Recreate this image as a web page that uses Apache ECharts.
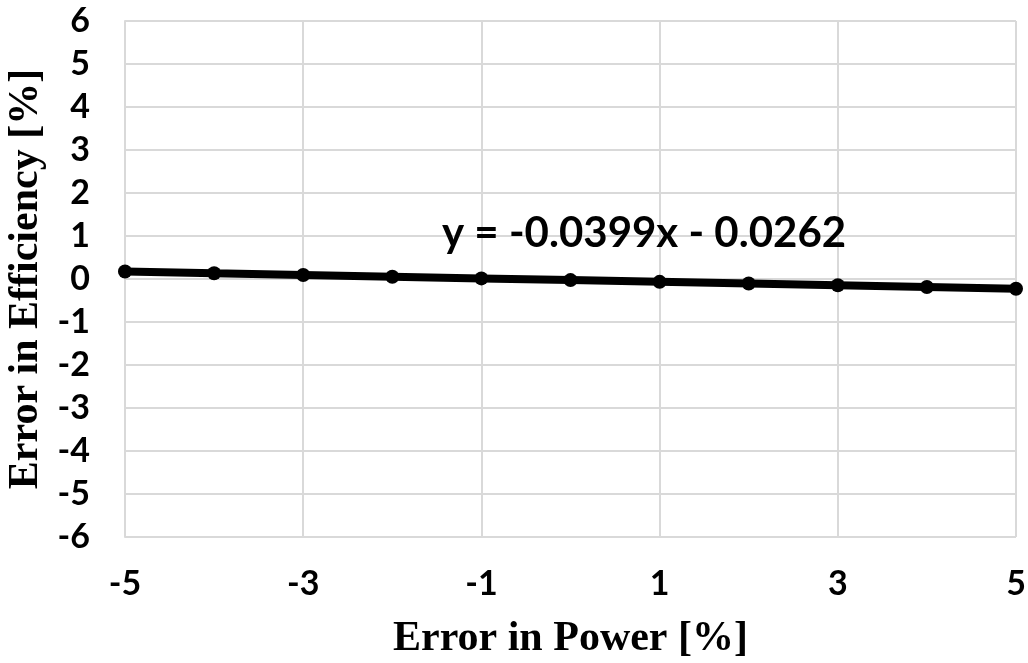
<!DOCTYPE html>
<html><head><meta charset="utf-8">
<script src="https://cdn.jsdelivr.net/npm/echarts@6/dist/echarts.min.js"></script>
<style>html,body{margin:0;padding:0;background:#fff}#c{width:1028px;height:663px}</style>
</head><body><div id="c"></div>
<script>
const xCategories = ['-5','-4','-3','-2','-1','0','1','2','3','4','5'];
const yValues = [0.173, 0.133, 0.094, 0.054, 0.014, -0.026, -0.066, -0.106, -0.146, -0.186, -0.226];
const equationLabel = 'y = -0.0399x - 0.0262';
const xTitle = 'Error in Power [%]';
const yTitle = 'Error in Efficiency [%]';

const chart = echarts.init(document.getElementById('c'));
const tickFont = {fontFamily: 'Lato', fontWeight: 'bold', fontSize: 34, color: '#000'};
const titleFont = {fontFamily: 'Liberation Serif', fontWeight: 'bold', fontSize: 42, color: '#000'};
chart.setOption({
  animation: false,
  grid: {left: 125, right: 12, top: 21, bottom: 126, containLabel: false, outerBoundsMode: 'none'},
  xAxis: {
    type: 'category', data: xCategories, boundaryGap: false,
    name: xTitle, nameLocation: 'middle', nameGap: 81,
    nameTextStyle: titleFont,
    axisLine: {lineStyle: {color: '#d9d9d9', width: 2}},
    axisTick: {show: false},
    axisLabel: Object.assign({interval: 1, margin: 30}, tickFont),
    splitLine: {show: true, interval: 1, lineStyle: {color: '#d9d9d9', width: 2}}
  },
  yAxis: {
    type: 'value', min: -6, max: 6, interval: 1,
    name: yTitle, nameLocation: 'middle', nameGap: 70,
    nameTextStyle: titleFont,
    axisLine: {show: true, lineStyle: {color: '#d9d9d9', width: 2}},
    axisTick: {show: false},
    axisLabel: Object.assign({margin: 35}, tickFont),
    splitLine: {show: true, lineStyle: {color: '#d9d9d9', width: 2}}
  },
  series: [{
    type: 'line', data: yValues,
    symbol: 'circle', symbolSize: 14,
    lineStyle: {color: '#000', width: 8},
    itemStyle: {color: '#000'}
  }],
  graphic: [{
    type: 'text', left: 442, top: 212, z: 100,
    style: {text: equationLabel, fontFamily: 'Lato', fontWeight: 'bold', fontSize: 42, fill: '#000'}
  }]
});
</script></body></html>
